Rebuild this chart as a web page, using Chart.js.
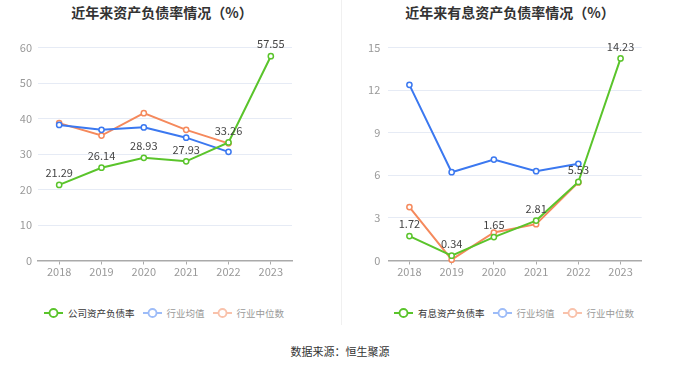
<!DOCTYPE html>
<html><head><meta charset="utf-8">
<script src="https://cdn.jsdelivr.net/npm/chart.js@4/dist/chart.umd.min.js"></script>
<style>
body{margin:0;width:680px;height:367px;background:#fff;position:relative;overflow:hidden;font-family:"Noto Sans CJK SC",sans-serif}
canvas{position:absolute;top:0}
.title{position:absolute;top:3px;height:18px;line-height:18px;font-size:14px;font-weight:bold;color:#333;text-align:center;white-space:nowrap}
.legend{position:absolute;top:305px;height:16px;display:flex;align-items:center;font-size:9.5px;white-space:nowrap}
.item{display:flex;align-items:center;margin-right:8px}
.item:last-child{margin-right:0}
.item svg{margin-right:5px}
.divider{position:absolute;left:341px;top:0;width:1px;height:325px;background:#f0f0f0}
.source{position:absolute;top:343px;left:0;width:680px;text-align:center;font-size:11px;color:#333;line-height:16px}
</style></head>
<body>
<div class="divider"></div>
<div class="title" style="left:0;width:324px">近年来资产负债率情况（%）</div>
<div class="title" style="left:340px;width:340px">近年来有息资产负债率情况（%）</div>
<canvas id="c1" width="340" height="290" style="left:0"></canvas>
<canvas id="c2" width="340" height="290" style="left:340px"></canvas>
<div class="legend" id="lg1" style="left:44px"></div>
<div class="legend" id="lg2" style="left:394px"></div>
<div class="source">数据来源：恒生聚源</div>
<script>
// ---- data ----
const years = ['2018','2019','2020','2021','2022','2023'];
const leftNames = ['公司资产负债率','行业均值','行业中位数'];
const leftCompany = [21.29, 26.14, 28.93, 27.93, 33.26, 57.55];
const leftAvg = [38.2, 36.8, 37.5, 34.6, 30.6, null];
const leftMedian = [38.7, 35.2, 41.5, 36.8, 33.0, null];
const leftTicks = [0, 10, 20, 30, 40, 50, 60];

const rightNames = ['有息资产负债率','行业均值','行业中位数'];
const rightCompany = [1.72, 0.34, 1.65, 2.81, 5.53, 14.23];
const rightAvg = [12.37, 6.22, 7.11, 6.29, 6.81, null];
const rightMedian = [3.76, 0.06, 1.97, 2.56, 5.5, null];
const rightTicks = [0, 3, 6, 9, 12, 15];

const GREEN = '#5ac42b', BLUE = '#3b78f0', ORANGE = '#f5895c';
const FONT = '"Noto Sans CJK SC", sans-serif';

const valueLabels = {
  id: 'valueLabels',
  afterDatasetsDraw(chart) {
    const ctx = chart.ctx;
    const meta = chart.getDatasetMeta(0);
    const ds = chart.data.datasets[0];
    ctx.save();
    ctx.font = '11px ' + FONT;
    ctx.fillStyle = '#444';
    ctx.textAlign = 'center';
    ctx.textBaseline = 'middle';
    meta.data.forEach((p, i) => {
      if (ds.data[i] == null) return;
      ctx.fillText(ds.data[i].toFixed(2), p.x, p.y - 12);
    });
    ctx.restore();
  }
};

function lineDs(label, data, color) {
  return {
    label, data, borderColor: color, backgroundColor: '#fff',
    borderWidth: 2, pointRadius: 2.6, pointBorderWidth: 1.5,
    pointBackgroundColor: '#fff', pointBorderColor: color,
    tension: 0, clip: false, spanGaps: false
  };
}

function makeChart(id, names, comp, avg, med, ticks, yWidth, padRight, tickPad) {
  const maxV = ticks[ticks.length - 1];
  const step = ticks[1] - ticks[0];
  return new Chart(document.getElementById(id), {
    type: 'line',
    data: {
      labels: years,
      datasets: [lineDs(names[0], comp, GREEN), lineDs(names[1], avg, BLUE), lineDs(names[2], med, ORANGE)]
    },
    options: {
      responsive: false, animation: false, devicePixelRatio: 1,
      layout: { padding: { top: 47.5, left: 0, right: padRight, bottom: 0 } },
      plugins: { legend: { display: false }, title: { display: false }, tooltip: { enabled: false } },
      scales: {
        x: {
          offset: true,
          grid: { offset: false, drawOnChartArea: false, drawTicks: true, tickLength: 4, color: '#aaa', lineWidth: 1 },
          border: { display: true, color: '#aaa', width: 1.5 },
          ticks: { color: '#999', font: { size: 11, family: FONT }, padding: 1, maxRotation: 0 },
          afterFit(s) { s.height = 29.5; }
        },
        y: {
          min: 0, max: maxV,
          afterBuildTicks(s) { s.ticks = ticks.map(v => ({ value: v })); },
          grid: { color: '#e6ebf5', drawTicks: false, lineWidth: 1 },
          border: { display: false },
          ticks: { stepSize: step, color: '#999', font: { size: 11, family: FONT }, padding: tickPad },
          afterFit(s) { s.width = yWidth; }
        }
      }
    },
    plugins: [valueLabels]
  });
}

makeChart('c1', leftNames, leftCompany, leftAvg, leftMedian, leftTicks, 38, 48, 6);
makeChart('c2', rightNames, rightCompany, rightAvg, rightMedian, rightTicks, 48.3, 38.3, 8);

function icon(color) {
  return '<svg width="19" height="12" viewBox="0 0 19 12"><line x1="0" y1="6" x2="19" y2="6" stroke="' + color +
    '" stroke-width="2"/><circle cx="9.5" cy="6" r="4" fill="#fff" stroke="' + color + '" stroke-width="1.8"/></svg>';
}
function legend(id, names) {
  const cols = [[GREEN, '#333'], ['#9dbcf8', '#999'], ['#f9c2ab', '#999']];
  document.getElementById(id).innerHTML = names.map((n, i) =>
    '<span class="item">' + icon(cols[i][0]) + '<span style="color:' + cols[i][1] + '">' + n + '</span></span>').join('');
}
legend('lg1', leftNames);
legend('lg2', rightNames);
</script>
</body></html>
